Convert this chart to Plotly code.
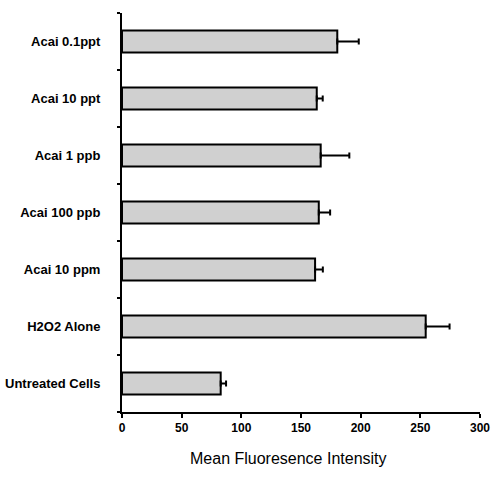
import plotly.graph_objects as go

categories = ["Untreated Cells", "H2O2 Alone", "Acai 10 ppm", "Acai 100 ppb",
              "Acai 1 ppb", "Acai 10 ppt", "Acai 0.1ppt"]
values = [82.7, 254.5, 161.8, 164.9, 166.5, 163.2, 180.4]
errors = [4.5, 20.0, 6.5, 9.5, 24.0, 5.0, 18.0]
x_ticks = [0, 50, 100, 150, 200, 250, 300]

label_font = "Liberation Sans, Arial, sans-serif"

fig = go.Figure(go.Bar(
    y=categories, x=values, orientation="h",
    marker=dict(color="#d0d0d0", line=dict(color="black", width=2)),
    error_x=dict(type="data", array=errors, symmetric=False,
                 arrayminus=[0] * len(errors), color="black",
                 thickness=2, width=3),
    width=0.39,
))

fig.update_layout(
    width=491, height=478,
    margin=dict(l=122, r=11, t=13, b=66),
    paper_bgcolor="white", plot_bgcolor="white",
    showlegend=False,
    xaxis=dict(range=[0, 300], tickvals=x_ticks, ticktext=[str(v) for v in x_ticks],
               automargin=False,
               showline=True, linecolor="black", linewidth=2,
               ticks="outside", ticklen=4, tickwidth=2, tickcolor="black",
               showgrid=False, zeroline=False,
               tickfont=dict(family=label_font, size=12, color="black", weight="bold")),
    yaxis=dict(categoryorder="array", categoryarray=categories,
               automargin=False,
               showline=True, linecolor="black", linewidth=2,
               ticks="outside", tickson="boundaries", ticklen=3, tickwidth=2, tickcolor="black",
               showgrid=False, zeroline=False,
               ticklabelstandoff=17,
               tickfont=dict(family=label_font, size=13, color="black", weight="bold")),
    annotations=[dict(text="Mean Fluoresence Intensity", xref="paper", yref="paper",
                      x=0.466, y=0, yshift=-46, xanchor="center", yanchor="middle",
                      showarrow=False,
                      font=dict(family="Liberation Sans, Arial, sans-serif", size=16, color="black"))],
)

fig.write_html("out.html",
               config={"displayModeBar": False},
               post_script="document.body.style.margin='0';document.body.style.overflow='hidden';")
